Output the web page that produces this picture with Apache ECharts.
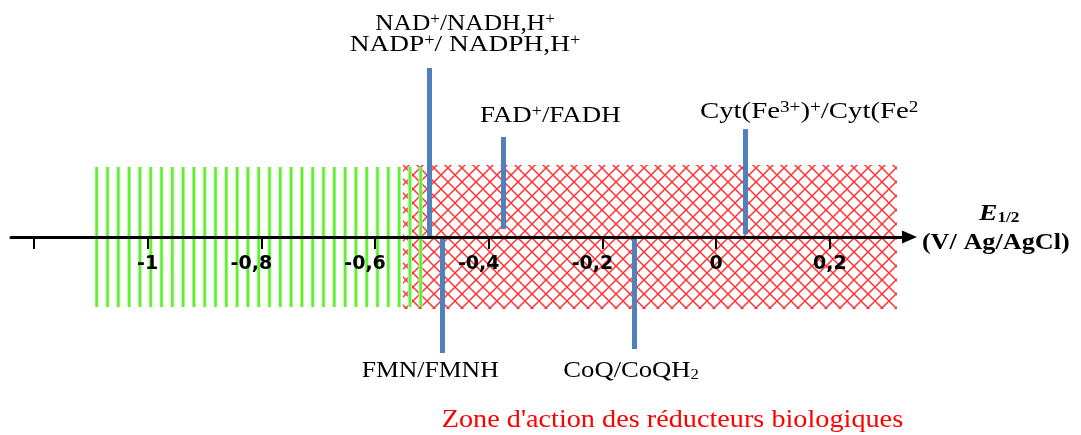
<!DOCTYPE html>
<html><head><meta charset="utf-8">
<script src="https://cdn.jsdelivr.net/npm/echarts@6/dist/echarts.min.js"></script>
<style>html,body{margin:0;padding:0;background:#fff}#c{width:1081px;height:435px}</style>
</head><body><div id="c"></div>
<script>
// ---- data ----
const xTickValues = [-1.2, -1, -0.8, -0.6, -0.4, -0.2, 0, 0.2];
const xTickLabels = ['', '-1', '-0,8', '-0,6', '-0,4', '-0,2', '0', '0,2'];
const coupleNames = ['NAD+/NADH,H+ ; NADP+/NADPH,H+', 'FAD+/FADH2', 'Cyt(Fe3+)/Cyt(Fe2+)', 'FMN/FMNH2', 'CoQ/CoQH2'];
const couplePotentials = [-0.505, -0.375, 0.051, -0.482, -0.144];
const coupleTop = [0.854, 0.505, 0.545, -0.005, 0.005];
const coupleBottom = [0, 0.04, 0.015, -0.586, -0.566];
const zoneNames = ['green', 'red'];
const zoneStart = [-1.105, -0.551];
const zoneEnd = [-0.516, 0.318];
const zoneTop = [0.354, 0.364];
const zoneBottom = [-0.354, -0.364];
const xMin = -1.2404, xMax = 0.3401;

// ---- patterns ----
function makeStripes() {
  const c = document.createElement('canvas');
  c.width = 54; c.height = 4;
  const g = c.getContext('2d');
  for (let k = 0; k < 6; k++) {
    const cx = 10.8 * k - 0.5;
    g.fillStyle = '#c4f9b0';
    g.fillRect(cx - 2, 0, 4, 4);
    g.fillStyle = '#5fef33';
    g.fillRect(cx - 1.2, 0, 2.4, 4);
  }
  return c;
}
function makeHatch() {
  const P = 14;
  const c = document.createElement('canvas');
  c.width = P; c.height = P;
  const g = c.getContext('2d');
  g.strokeStyle = '#ff3333';
  g.lineWidth = 1.5;
  g.beginPath();
  g.moveTo(-2, -2); g.lineTo(P + 2, P + 2);
  g.moveTo(P + 2, -2); g.lineTo(-2, P + 2);
  g.stroke();
  return c;
}
const patterns = [
  { image: makeStripes(), repeat: 'repeat' },
  { image: makeHatch(), repeat: 'repeat' }
];

const chart = echarts.init(document.getElementById('c'), null, { renderer: 'canvas' });
const labelIdx = v => xTickValues.findIndex(t => Math.abs(t - Number(v)) < 1e-6);
const serif = 'Liberation Serif';
const m = { fontSize: 24, fontFamily: serif, fill: '#000', lineHeight: 24 };
const sup = { fontSize: 16, fontFamily: serif, fill: '#000', lineHeight: 10, verticalAlign: 'top' };
const sub = { fontSize: 15, fontFamily: serif, fill: '#000', lineHeight: 11, verticalAlign: 'bottom' };
const rich = { m: m, s: sup, d: sub };

function txt(x, y, text, sx, align) {
  return {
    type: 'text', x: x, y: y, scaleX: sx, z: 100,
    style: { text: text, rich: rich, align: align, verticalAlign: 'middle', fill: '#000', fontFamily: serif, fontSize: 24 }
  };
}

const zoneData = zoneNames.map((n, i) => [zoneStart[i], zoneEnd[i], zoneBottom[i], zoneTop[i]]);
const zoneOrder = [1, 0]; // red first, green on top

chart.setOption({
  animation: false,
  grid: { left: 11, right: 171.5, top: 39, bottom: 198, containLabel: false, outerBoundsMode: 'none' },
  xAxis: {
    type: 'value', min: xMin, max: xMax, z: 10,
    splitLine: { show: false },
    axisLine: { onZero: false, symbol: ['none', 'triangle'], symbolSize: [13, 15], lineStyle: { color: '#000', width: 3 } },
    axisTick: { show: true, customValues: xTickValues, length: 12, lineStyle: { color: '#000', width: 2 } },
    axisLabel: {
      customValues: xTickValues.slice(1), margin: 18,
      formatter: v => { const s = xTickLabels[labelIdx(v)] || ''; return s.indexOf('-0') === 0 ? '{b|' + s + '}' : '{a|' + s + '}'; },
      rich: {
        a: { fontFamily: 'DejaVu Sans', fontWeight: 'bold', fontSize: 19, color: '#000' },
        b: { fontFamily: 'DejaVu Sans', fontWeight: 'bold', fontSize: 19, color: '#000', padding: [0, 20, 0, 0] }
      }
    }
  },
  yAxis: { type: 'value', min: 0, max: 1, show: false },
  series: [
    {
      type: 'custom', name: 'zones', z: 2, silent: true, clip: false,
      data: zoneOrder.map(i => zoneData[i]),
      renderItem: function (params, api) {
        const zi = zoneOrder[params.dataIndex];
        const p0 = api.coord([api.value(0), api.value(3)]);
        const p1 = api.coord([api.value(1), api.value(2)]);
        return { type: 'rect', shape: { x: p0[0], y: p0[1], width: p1[0] - p0[0], height: p1[1] - p0[1] }, style: { fill: patterns[zi] } };
      }
    },
    {
      type: 'lines', coordinateSystem: 'cartesian2d', z: 5, silent: true, clip: false,
      lineStyle: { color: '#4f81bd', width: 5, opacity: 1, cap: 'butt' },
      data: couplePotentials.map((v, i) => ({ name: coupleNames[i], coords: [[v, coupleTop[i]], [v, coupleBottom[i]]] }))
    }
  ],
  graphic: [
    txt(465, 23.3, '{m|NAD}{s|+}{m|/NADH,H}{s|+}', 1.06, 'center'),
    txt(465, 45, '{m|NADP}{s|+}{m|/ NADPH,H}{s|+}', 1.14, 'center'),
    txt(480, 115.8, '{m|FAD}{s|+}{m|/FADH}', 1.12, 'left'),
    txt(700, 111.3, '{m|Cyt(Fe}{s|3+}{m|)}{s|+}{m|/Cyt(Fe}{s|2}', 1.2, 'left'),
    txt(361.7, 370.5, '{m|FMN/FMNH}', 1.07, 'left'),
    txt(563.3, 370.5, '{m|CoQ/CoQH}{d|2}', 1.11, 'left'),
    { type: 'text', x: 441.7, y: 420, scaleX: 1.086, z: 100,
      style: { text: "Zone d'action des réducteurs biologiques", fill: '#ff0000', fontFamily: serif, fontSize: 26, align: 'left', verticalAlign: 'middle' } },
    { type: 'text', x: 979, y: 214, scaleX: 1.15, z: 100,
      style: { text: '{e|E}{es|1/2}', align: 'left', verticalAlign: 'middle', fill: '#000',
        rich: { e: { fontFamily: serif, fontWeight: 'bold', fontStyle: 'italic', fontSize: 24, lineHeight: 24, fill: '#000' },
                es: { fontFamily: serif, fontWeight: 'bold', fontSize: 15, lineHeight: 11, verticalAlign: 'bottom', fill: '#000' } } } },
    { type: 'text', x: 995.8, y: 243, scaleX: 1.14, z: 100,
      style: { text: '(V/ Ag/AgCl)', fill: '#000', fontFamily: serif, fontWeight: 'bold', fontSize: 23, align: 'center', verticalAlign: 'middle' } }
  ]
});
</script>
</body></html>
